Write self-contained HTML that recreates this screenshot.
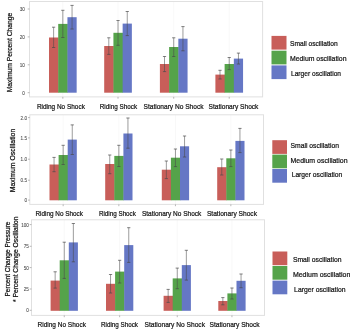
<!DOCTYPE html><html><head><meta charset="utf-8"><style>html,body{margin:0;padding:0;background:#fff;width:350px;height:331px;overflow:hidden}svg{display:block;filter:blur(0.3px)}text{font-family:"Liberation Sans",sans-serif}</style></head><body>
<svg width="350" height="331" viewBox="0 0 350 331">
<line x1="62.83" y1="1.5" x2="62.83" y2="96.9" stroke="#f3f3f3" stroke-width="0.6"/>
<line x1="118.03" y1="1.5" x2="118.03" y2="96.9" stroke="#f3f3f3" stroke-width="0.6"/>
<line x1="173.73" y1="1.5" x2="173.73" y2="96.9" stroke="#f3f3f3" stroke-width="0.6"/>
<line x1="229.23" y1="1.5" x2="229.23" y2="96.9" stroke="#f3f3f3" stroke-width="0.6"/>
<rect x="29.5" y="1.5" width="233.10" height="95.40" fill="none" stroke="#e0e0e0" stroke-width="1"/>
<line x1="27.7" y1="92.7" x2="29.5" y2="92.7" stroke="#9a9a9a" stroke-width="0.7"/>
<text x="24.8" y="94.60" font-size="4.6" fill="#4d4d4d" stroke="#4d4d4d" stroke-width="0.08" text-anchor="end">0</text>
<line x1="27.7" y1="64.8" x2="29.5" y2="64.8" stroke="#9a9a9a" stroke-width="0.7"/>
<text x="24.8" y="66.70" font-size="4.6" fill="#4d4d4d" stroke="#4d4d4d" stroke-width="0.08" text-anchor="end">10</text>
<line x1="27.7" y1="36.9" x2="29.5" y2="36.9" stroke="#9a9a9a" stroke-width="0.7"/>
<text x="24.8" y="38.80" font-size="4.6" fill="#4d4d4d" stroke="#4d4d4d" stroke-width="0.08" text-anchor="end">20</text>
<line x1="27.7" y1="9.0" x2="29.5" y2="9.0" stroke="#9a9a9a" stroke-width="0.7"/>
<text x="24.8" y="10.90" font-size="4.6" fill="#4d4d4d" stroke="#4d4d4d" stroke-width="0.08" text-anchor="end">30</text>
<line x1="62.83" y1="96.9" x2="62.83" y2="98.7" stroke="#9a9a9a" stroke-width="0.7"/>
<line x1="118.03" y1="96.9" x2="118.03" y2="98.7" stroke="#9a9a9a" stroke-width="0.7"/>
<line x1="173.73" y1="96.9" x2="173.73" y2="98.7" stroke="#9a9a9a" stroke-width="0.7"/>
<line x1="229.23" y1="96.9" x2="229.23" y2="98.7" stroke="#9a9a9a" stroke-width="0.7"/>
<rect x="49.00" y="37.5" width="9.620000000000001" height="55.20" fill="#c85e59"/>
<rect x="58.22" y="23.9" width="9.620000000000001" height="68.80" fill="#55a34a"/>
<rect x="67.44" y="17.2" width="9.22" height="75.50" fill="#6577c5"/>
<rect x="104.20" y="46.0" width="9.620000000000001" height="46.70" fill="#c85e59"/>
<rect x="113.42" y="32.8" width="9.620000000000001" height="59.90" fill="#55a34a"/>
<rect x="122.64" y="23.6" width="9.22" height="69.10" fill="#6577c5"/>
<rect x="159.90" y="64.0" width="9.620000000000001" height="28.70" fill="#c85e59"/>
<rect x="169.12" y="47.0" width="9.620000000000001" height="45.70" fill="#55a34a"/>
<rect x="178.34" y="38.7" width="9.22" height="54.00" fill="#6577c5"/>
<rect x="215.40" y="74.6" width="9.620000000000001" height="18.10" fill="#c85e59"/>
<rect x="224.62" y="64.0" width="9.620000000000001" height="28.70" fill="#55a34a"/>
<rect x="233.84" y="58.6" width="9.22" height="34.10" fill="#6577c5"/>
<path d="M53.61 27.2V47.5" stroke="#4a4a4a" stroke-width="0.55" fill="none"/><path d="M52.01 27.2H55.21M52.01 47.5H55.21" stroke="#4a4a4a" stroke-width="0.7" fill="none"/>
<path d="M62.83 10.3V37.5" stroke="#4a4a4a" stroke-width="0.55" fill="none"/><path d="M61.23 10.3H64.43M61.23 37.5H64.43" stroke="#4a4a4a" stroke-width="0.7" fill="none"/>
<path d="M72.05 5.4V29.0" stroke="#4a4a4a" stroke-width="0.55" fill="none"/><path d="M70.45 5.4H73.65M70.45 29.0H73.65" stroke="#4a4a4a" stroke-width="0.7" fill="none"/>
<path d="M108.81 37.8V54.4" stroke="#4a4a4a" stroke-width="0.55" fill="none"/><path d="M107.21 37.8H110.41M107.21 54.4H110.41" stroke="#4a4a4a" stroke-width="0.7" fill="none"/>
<path d="M118.03 20.5V45.3" stroke="#4a4a4a" stroke-width="0.55" fill="none"/><path d="M116.43 20.5H119.63M116.43 45.3H119.63" stroke="#4a4a4a" stroke-width="0.7" fill="none"/>
<path d="M127.25 11.5V35.6" stroke="#4a4a4a" stroke-width="0.55" fill="none"/><path d="M125.65 11.5H128.85M125.65 35.6H128.85" stroke="#4a4a4a" stroke-width="0.7" fill="none"/>
<path d="M164.51 56.5V71.6" stroke="#4a4a4a" stroke-width="0.55" fill="none"/><path d="M162.91 56.5H166.11M162.91 71.6H166.11" stroke="#4a4a4a" stroke-width="0.7" fill="none"/>
<path d="M173.73 37.8V56.5" stroke="#4a4a4a" stroke-width="0.55" fill="none"/><path d="M172.13 37.8H175.33M172.13 56.5H175.33" stroke="#4a4a4a" stroke-width="0.7" fill="none"/>
<path d="M182.95 26.6V50.8" stroke="#4a4a4a" stroke-width="0.55" fill="none"/><path d="M181.35 26.6H184.55M181.35 50.8H184.55" stroke="#4a4a4a" stroke-width="0.7" fill="none"/>
<path d="M220.01 70.3V79.0" stroke="#4a4a4a" stroke-width="0.55" fill="none"/><path d="M218.41 70.3H221.61M218.41 79.0H221.61" stroke="#4a4a4a" stroke-width="0.7" fill="none"/>
<path d="M229.23 57.5V69.6" stroke="#4a4a4a" stroke-width="0.55" fill="none"/><path d="M227.63 57.5H230.83M227.63 69.6H230.83" stroke="#4a4a4a" stroke-width="0.7" fill="none"/>
<path d="M238.45 53.1V64.0" stroke="#4a4a4a" stroke-width="0.55" fill="none"/><path d="M236.85 53.1H240.05M236.85 64.0H240.05" stroke="#4a4a4a" stroke-width="0.7" fill="none"/>
<text x="36.9" y="108.8" font-size="8.0" fill="#141414" stroke="#141414" stroke-width="0.24" textLength="48" lengthAdjust="spacingAndGlyphs">Riding No Shock</text>
<text x="99.8" y="108.8" font-size="8.0" fill="#141414" stroke="#141414" stroke-width="0.24" textLength="37.3" lengthAdjust="spacingAndGlyphs">Riding Shock</text>
<text x="143.5" y="108.8" font-size="8.0" fill="#141414" stroke="#141414" stroke-width="0.24" textLength="60" lengthAdjust="spacingAndGlyphs">Stationary No Shock</text>
<text x="208.6" y="108.8" font-size="8.0" fill="#141414" stroke="#141414" stroke-width="0.24" textLength="49.8" lengthAdjust="spacingAndGlyphs">Stationary Shock</text>
<rect x="271.5" y="35.9" width="15.00" height="13.7" fill="#c85e59"/>
<text x="290.0" y="45.85" font-size="8.0" fill="#141414" stroke="#141414" stroke-width="0.24" textLength="47.7" lengthAdjust="spacingAndGlyphs">Small oscillation</text>
<rect x="271.5" y="50.7" width="15.00" height="13.7" fill="#55a34a"/>
<text x="290.0" y="61.25" font-size="8.0" fill="#141414" stroke="#141414" stroke-width="0.24" textLength="56.5" lengthAdjust="spacingAndGlyphs">Medium oscillation</text>
<rect x="271.5" y="65.4" width="15.00" height="13.7" fill="#6577c5"/>
<text x="291.0" y="75.65" font-size="8.0" fill="#141414" stroke="#141414" stroke-width="0.24" textLength="50.0" lengthAdjust="spacingAndGlyphs">Larger oscillation</text>
<text transform="translate(11.9,52.5) rotate(-90)" x="0" y="0" font-size="8.0" stroke="#141414" stroke-width="0.24" fill="#141414" text-anchor="middle" textLength="79.5" lengthAdjust="spacingAndGlyphs">Maximum Percent Change</text>
<line x1="63.15" y1="114.8" x2="63.15" y2="204.4" stroke="#f3f3f3" stroke-width="0.6"/>
<line x1="118.85" y1="114.8" x2="118.85" y2="204.4" stroke="#f3f3f3" stroke-width="0.6"/>
<line x1="175.45" y1="114.8" x2="175.45" y2="204.4" stroke="#f3f3f3" stroke-width="0.6"/>
<line x1="230.85" y1="114.8" x2="230.85" y2="204.4" stroke="#f3f3f3" stroke-width="0.6"/>
<rect x="29.8" y="114.8" width="233.70" height="89.60" fill="none" stroke="#e0e0e0" stroke-width="1"/>
<line x1="28.0" y1="200.1" x2="29.8" y2="200.1" stroke="#9a9a9a" stroke-width="0.7"/>
<text x="27.0" y="202.00" font-size="4.6" fill="#4d4d4d" stroke="#4d4d4d" stroke-width="0.08" text-anchor="end">0</text>
<line x1="28.0" y1="180.2" x2="29.8" y2="180.2" stroke="#9a9a9a" stroke-width="0.7"/>
<text x="27.0" y="182.10" font-size="4.6" fill="#4d4d4d" stroke="#4d4d4d" stroke-width="0.08" text-anchor="end">0.5</text>
<line x1="28.0" y1="159.2" x2="29.8" y2="159.2" stroke="#9a9a9a" stroke-width="0.7"/>
<text x="27.0" y="161.10" font-size="4.6" fill="#4d4d4d" stroke="#4d4d4d" stroke-width="0.08" text-anchor="end">1.0</text>
<line x1="28.0" y1="137.9" x2="29.8" y2="137.9" stroke="#9a9a9a" stroke-width="0.7"/>
<text x="27.0" y="139.80" font-size="4.6" fill="#4d4d4d" stroke="#4d4d4d" stroke-width="0.08" text-anchor="end">1.5</text>
<line x1="28.0" y1="117.6" x2="29.8" y2="117.6" stroke="#9a9a9a" stroke-width="0.7"/>
<text x="27.0" y="119.50" font-size="4.6" fill="#4d4d4d" stroke="#4d4d4d" stroke-width="0.08" text-anchor="end">2.0</text>
<line x1="63.15" y1="204.4" x2="63.15" y2="206.20000000000002" stroke="#9a9a9a" stroke-width="0.7"/>
<line x1="118.85" y1="204.4" x2="118.85" y2="206.20000000000002" stroke="#9a9a9a" stroke-width="0.7"/>
<line x1="175.45" y1="204.4" x2="175.45" y2="206.20000000000002" stroke="#9a9a9a" stroke-width="0.7"/>
<line x1="230.85" y1="204.4" x2="230.85" y2="206.20000000000002" stroke="#9a9a9a" stroke-width="0.7"/>
<rect x="49.50" y="164.5" width="9.5" height="35.80" fill="#c85e59"/>
<rect x="58.60" y="155.0" width="9.5" height="45.30" fill="#55a34a"/>
<rect x="67.70" y="139.6" width="9.1" height="60.70" fill="#6577c5"/>
<rect x="105.20" y="164.0" width="9.5" height="36.30" fill="#c85e59"/>
<rect x="114.30" y="155.9" width="9.5" height="44.40" fill="#55a34a"/>
<rect x="123.40" y="133.5" width="9.1" height="66.80" fill="#6577c5"/>
<rect x="161.80" y="169.7" width="9.5" height="30.60" fill="#c85e59"/>
<rect x="170.90" y="157.7" width="9.5" height="42.60" fill="#55a34a"/>
<rect x="180.00" y="146.3" width="9.1" height="54.00" fill="#6577c5"/>
<rect x="217.20" y="167.2" width="9.5" height="33.10" fill="#c85e59"/>
<rect x="226.30" y="158.3" width="9.5" height="42.00" fill="#55a34a"/>
<rect x="235.40" y="140.9" width="9.1" height="59.40" fill="#6577c5"/>
<path d="M54.05 157.4V171.7" stroke="#4a4a4a" stroke-width="0.55" fill="none"/><path d="M52.45 157.4H55.65M52.45 171.7H55.65" stroke="#4a4a4a" stroke-width="0.7" fill="none"/>
<path d="M63.15 145.3V164.5" stroke="#4a4a4a" stroke-width="0.55" fill="none"/><path d="M61.55 145.3H64.75M61.55 164.5H64.75" stroke="#4a4a4a" stroke-width="0.7" fill="none"/>
<path d="M72.25 124.9V154.5" stroke="#4a4a4a" stroke-width="0.55" fill="none"/><path d="M70.65 124.9H73.85M70.65 154.5H73.85" stroke="#4a4a4a" stroke-width="0.7" fill="none"/>
<path d="M109.75 155.0V173.7" stroke="#4a4a4a" stroke-width="0.55" fill="none"/><path d="M108.15 155.0H111.35M108.15 173.7H111.35" stroke="#4a4a4a" stroke-width="0.7" fill="none"/>
<path d="M118.85 145.3V166.5" stroke="#4a4a4a" stroke-width="0.55" fill="none"/><path d="M117.25 145.3H120.45M117.25 166.5H120.45" stroke="#4a4a4a" stroke-width="0.7" fill="none"/>
<path d="M127.95 118.0V148.2" stroke="#4a4a4a" stroke-width="0.55" fill="none"/><path d="M126.35 118.0H129.55M126.35 148.2H129.55" stroke="#4a4a4a" stroke-width="0.7" fill="none"/>
<path d="M166.35 161.0V178.6" stroke="#4a4a4a" stroke-width="0.55" fill="none"/><path d="M164.75 161.0H167.95M164.75 178.6H167.95" stroke="#4a4a4a" stroke-width="0.7" fill="none"/>
<path d="M175.45 149.0V166.6" stroke="#4a4a4a" stroke-width="0.55" fill="none"/><path d="M173.85 149.0H177.05M173.85 166.6H177.05" stroke="#4a4a4a" stroke-width="0.7" fill="none"/>
<path d="M184.55 136.0V157.0" stroke="#4a4a4a" stroke-width="0.55" fill="none"/><path d="M182.95 136.0H186.15M182.95 157.0H186.15" stroke="#4a4a4a" stroke-width="0.7" fill="none"/>
<path d="M221.75 159.0V175.0" stroke="#4a4a4a" stroke-width="0.55" fill="none"/><path d="M220.15 159.0H223.35M220.15 175.0H223.35" stroke="#4a4a4a" stroke-width="0.7" fill="none"/>
<path d="M230.85 150.0V166.6" stroke="#4a4a4a" stroke-width="0.55" fill="none"/><path d="M229.25 150.0H232.45M229.25 166.6H232.45" stroke="#4a4a4a" stroke-width="0.7" fill="none"/>
<path d="M239.95 128.4V152.6" stroke="#4a4a4a" stroke-width="0.55" fill="none"/><path d="M238.35 128.4H241.55M238.35 152.6H241.55" stroke="#4a4a4a" stroke-width="0.7" fill="none"/>
<text x="35.5" y="215.8" font-size="8.0" fill="#141414" stroke="#141414" stroke-width="0.24" textLength="47.5" lengthAdjust="spacingAndGlyphs">Riding No Shock</text>
<text x="98.9" y="215.8" font-size="8.0" fill="#141414" stroke="#141414" stroke-width="0.24" textLength="37" lengthAdjust="spacingAndGlyphs">Riding Shock</text>
<text x="141.9" y="215.8" font-size="8.0" fill="#141414" stroke="#141414" stroke-width="0.24" textLength="59.4" lengthAdjust="spacingAndGlyphs">Stationary No Shock</text>
<text x="206.9" y="215.8" font-size="8.0" fill="#141414" stroke="#141414" stroke-width="0.24" textLength="50.1" lengthAdjust="spacingAndGlyphs">Stationary Shock</text>
<rect x="272.3" y="140.2" width="14.70" height="13.7" fill="#c85e59"/>
<text x="290.5" y="147.95" font-size="8.0" fill="#141414" stroke="#141414" stroke-width="0.24" textLength="48.5" lengthAdjust="spacingAndGlyphs">Small oscillation</text>
<rect x="272.3" y="154.6" width="14.70" height="13.7" fill="#55a34a"/>
<text x="290.5" y="162.55" font-size="8.0" fill="#141414" stroke="#141414" stroke-width="0.24" textLength="57.0" lengthAdjust="spacingAndGlyphs">Medium oscillation</text>
<rect x="272.3" y="169.0" width="14.70" height="13.7" fill="#6577c5"/>
<text x="291.7" y="176.65" font-size="8.0" fill="#141414" stroke="#141414" stroke-width="0.24" textLength="50.5" lengthAdjust="spacingAndGlyphs">Larger oscillation</text>
<text transform="translate(14.8,160.5) rotate(-90)" x="0" y="0" font-size="8.0" stroke="#141414" stroke-width="0.24" fill="#141414" text-anchor="middle" textLength="63.5" lengthAdjust="spacingAndGlyphs">Maximum Oscillation</text>
<line x1="64.25" y1="219.8" x2="64.25" y2="315.4" stroke="#f3f3f3" stroke-width="0.6"/>
<line x1="119.65" y1="219.8" x2="119.65" y2="315.4" stroke="#f3f3f3" stroke-width="0.6"/>
<line x1="177.25" y1="219.8" x2="177.25" y2="315.4" stroke="#f3f3f3" stroke-width="0.6"/>
<line x1="231.95" y1="219.8" x2="231.95" y2="315.4" stroke="#f3f3f3" stroke-width="0.6"/>
<rect x="31.5" y="219.8" width="233.00" height="95.60" fill="none" stroke="#e0e0e0" stroke-width="1"/>
<line x1="29.7" y1="310.3" x2="31.5" y2="310.3" stroke="#9a9a9a" stroke-width="0.7"/>
<text x="28.8" y="312.20" font-size="4.6" fill="#4d4d4d" stroke="#4d4d4d" stroke-width="0.08" text-anchor="end">0</text>
<line x1="29.7" y1="289.0" x2="31.5" y2="289.0" stroke="#9a9a9a" stroke-width="0.7"/>
<text x="28.8" y="290.90" font-size="4.6" fill="#4d4d4d" stroke="#4d4d4d" stroke-width="0.08" text-anchor="end">25</text>
<line x1="29.7" y1="267.6" x2="31.5" y2="267.6" stroke="#9a9a9a" stroke-width="0.7"/>
<text x="28.8" y="269.50" font-size="4.6" fill="#4d4d4d" stroke="#4d4d4d" stroke-width="0.08" text-anchor="end">50</text>
<line x1="29.7" y1="246.3" x2="31.5" y2="246.3" stroke="#9a9a9a" stroke-width="0.7"/>
<text x="28.8" y="248.20" font-size="4.6" fill="#4d4d4d" stroke="#4d4d4d" stroke-width="0.08" text-anchor="end">75</text>
<line x1="29.7" y1="224.6" x2="31.5" y2="224.6" stroke="#9a9a9a" stroke-width="0.7"/>
<text x="28.8" y="226.50" font-size="4.6" fill="#4d4d4d" stroke="#4d4d4d" stroke-width="0.08" text-anchor="end">100</text>
<line x1="64.25" y1="315.4" x2="64.25" y2="317.2" stroke="#9a9a9a" stroke-width="0.7"/>
<line x1="119.65" y1="315.4" x2="119.65" y2="317.2" stroke="#9a9a9a" stroke-width="0.7"/>
<line x1="177.25" y1="315.4" x2="177.25" y2="317.2" stroke="#9a9a9a" stroke-width="0.7"/>
<line x1="231.95" y1="315.4" x2="231.95" y2="317.2" stroke="#9a9a9a" stroke-width="0.7"/>
<rect x="50.60" y="280.6" width="9.5" height="30.20" fill="#c85e59"/>
<rect x="59.70" y="260.3" width="9.5" height="50.50" fill="#55a34a"/>
<rect x="68.80" y="242.4" width="9.1" height="68.40" fill="#6577c5"/>
<rect x="106.00" y="283.8" width="9.5" height="27.00" fill="#c85e59"/>
<rect x="115.10" y="271.6" width="9.5" height="39.20" fill="#55a34a"/>
<rect x="124.20" y="245.1" width="9.1" height="65.70" fill="#6577c5"/>
<rect x="163.60" y="295.8" width="9.5" height="15.00" fill="#c85e59"/>
<rect x="172.70" y="278.4" width="9.5" height="32.40" fill="#55a34a"/>
<rect x="181.80" y="265.1" width="9.1" height="45.70" fill="#6577c5"/>
<rect x="218.30" y="301.0" width="9.5" height="9.80" fill="#c85e59"/>
<rect x="227.40" y="293.4" width="9.5" height="17.40" fill="#55a34a"/>
<rect x="236.50" y="280.8" width="9.1" height="30.00" fill="#6577c5"/>
<path d="M55.15 271.8V288.1" stroke="#4a4a4a" stroke-width="0.55" fill="none"/><path d="M53.55 271.8H56.75M53.55 288.1H56.75" stroke="#4a4a4a" stroke-width="0.7" fill="none"/>
<path d="M64.25 242.2V278.4" stroke="#4a4a4a" stroke-width="0.55" fill="none"/><path d="M62.65 242.2H65.85M62.65 278.4H65.85" stroke="#4a4a4a" stroke-width="0.7" fill="none"/>
<path d="M73.35 223.5V261.8" stroke="#4a4a4a" stroke-width="0.55" fill="none"/><path d="M71.75 223.5H74.95M71.75 261.8H74.95" stroke="#4a4a4a" stroke-width="0.7" fill="none"/>
<path d="M110.55 274.5V293.0" stroke="#4a4a4a" stroke-width="0.55" fill="none"/><path d="M108.95 274.5H112.15M108.95 293.0H112.15" stroke="#4a4a4a" stroke-width="0.7" fill="none"/>
<path d="M119.65 260.3V283.0" stroke="#4a4a4a" stroke-width="0.55" fill="none"/><path d="M118.05 260.3H121.25M118.05 283.0H121.25" stroke="#4a4a4a" stroke-width="0.7" fill="none"/>
<path d="M128.75 227.7V262.4" stroke="#4a4a4a" stroke-width="0.55" fill="none"/><path d="M127.15 227.7H130.35M127.15 262.4H130.35" stroke="#4a4a4a" stroke-width="0.7" fill="none"/>
<path d="M168.15 289.4V302.4" stroke="#4a4a4a" stroke-width="0.55" fill="none"/><path d="M166.55 289.4H169.75M166.55 302.4H169.75" stroke="#4a4a4a" stroke-width="0.7" fill="none"/>
<path d="M177.25 268.1V288.7" stroke="#4a4a4a" stroke-width="0.55" fill="none"/><path d="M175.65 268.1H178.85M175.65 288.7H178.85" stroke="#4a4a4a" stroke-width="0.7" fill="none"/>
<path d="M186.35 250.3V280.1" stroke="#4a4a4a" stroke-width="0.55" fill="none"/><path d="M184.75 250.3H187.95M184.75 280.1H187.95" stroke="#4a4a4a" stroke-width="0.7" fill="none"/>
<path d="M222.85 297.6V304.8" stroke="#4a4a4a" stroke-width="0.55" fill="none"/><path d="M221.25 297.6H224.45M221.25 304.8H224.45" stroke="#4a4a4a" stroke-width="0.7" fill="none"/>
<path d="M231.95 288.0V299.0" stroke="#4a4a4a" stroke-width="0.55" fill="none"/><path d="M230.35 288.0H233.55M230.35 299.0H233.55" stroke="#4a4a4a" stroke-width="0.7" fill="none"/>
<path d="M241.05 274.0V287.7" stroke="#4a4a4a" stroke-width="0.55" fill="none"/><path d="M239.45 274.0H242.65M239.45 287.7H242.65" stroke="#4a4a4a" stroke-width="0.7" fill="none"/>
<text x="37.5" y="327.2" font-size="8.0" fill="#141414" stroke="#141414" stroke-width="0.24" textLength="48.4" lengthAdjust="spacingAndGlyphs">Riding No Shock</text>
<text x="101" y="327.2" font-size="8.0" fill="#141414" stroke="#141414" stroke-width="0.24" textLength="37" lengthAdjust="spacingAndGlyphs">Riding Shock</text>
<text x="144.5" y="327.2" font-size="8.0" fill="#141414" stroke="#141414" stroke-width="0.24" textLength="60.5" lengthAdjust="spacingAndGlyphs">Stationary No Shock</text>
<text x="209.5" y="327.2" font-size="8.0" fill="#141414" stroke="#141414" stroke-width="0.24" textLength="50.1" lengthAdjust="spacingAndGlyphs">Stationary Shock</text>
<rect x="272.5" y="251.5" width="14.80" height="13.7" fill="#c85e59"/>
<text x="292.9" y="262.35" font-size="8.0" fill="#141414" stroke="#141414" stroke-width="0.24" textLength="48.6" lengthAdjust="spacingAndGlyphs">Small oscillation</text>
<rect x="272.5" y="266.0" width="14.80" height="13.7" fill="#55a34a"/>
<text x="292.9" y="277.25" font-size="8.0" fill="#141414" stroke="#141414" stroke-width="0.24" textLength="57.5" lengthAdjust="spacingAndGlyphs">Medium oscillation</text>
<rect x="272.5" y="280.6" width="14.80" height="13.7" fill="#6577c5"/>
<text x="294.1" y="291.75" font-size="8.0" fill="#141414" stroke="#141414" stroke-width="0.24" textLength="51.4" lengthAdjust="spacingAndGlyphs">Larger oscillation</text>
<text transform="translate(9.6,259.0) rotate(-90)" x="0" y="0" font-size="8.0" stroke="#141414" stroke-width="0.24" fill="#141414" text-anchor="middle" textLength="75.0" lengthAdjust="spacingAndGlyphs">Percent Change Pressure</text>
<text transform="translate(17.9,259.3) rotate(-90)" x="0" y="0" font-size="8.0" stroke="#141414" stroke-width="0.24" fill="#141414" text-anchor="middle" textLength="85.4" lengthAdjust="spacingAndGlyphs">* Percent Change Oscillation</text>
</svg></body></html>
